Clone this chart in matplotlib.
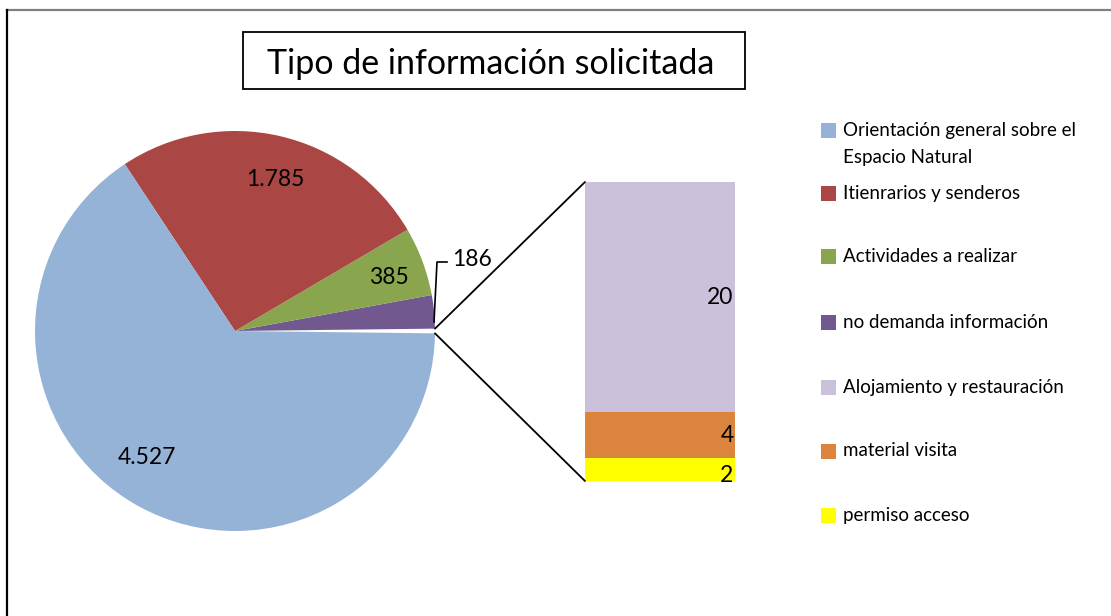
import numpy as np
import matplotlib
matplotlib.use('Agg')
import matplotlib.pyplot as plt
from matplotlib.patches import ConnectionPatch, Rectangle
from matplotlib.lines import Line2D

W, H = 1111, 616

# data
pie_labels = ['Orientación general sobre el\nEspacio Natural', 'Itienrarios y senderos',
              'Actividades a realizar', 'no demanda información']
pie_values = [4527, 1785, 385, 186]
bar_labels = ['Alojamiento y restauración', 'material visita', 'permiso acceso']
bar_values = [20, 4, 2]
pie_colors = ['#95B3D7', '#AA4643', '#89A54E', '#71588F']
bar_colors = ['#CCC1DA', '#DB843D', '#FFFF00']
title = 'Tipo de información solicitada'


def fx(px):
    return px / W


def fy(py):
    return 1 - py / H


def fmt(v):
    return '{:,}'.format(v).replace(',', '.')


plt.rcParams['font.family'] = ['Lato', 'DejaVu Sans']
fig = plt.figure(figsize=(W / 100, H / 100), dpi=100)

# frame lines of the chart area
fig.add_artist(Line2D([fx(7), 1], [fy(10), fy(10)], color='#808080', lw=1.6))
fig.add_artist(Line2D([fx(7), fx(7)], [fy(10), 0], color='black', lw=1.6))

# title in a box
fig.add_artist(Rectangle((fx(243), fy(89)), fx(745) - fx(243), fy(32) - fy(89),
                         facecolor='white', edgecolor='black', lw=1.3))
fig.text(fx(491), fy(64), title, ha='center', va='center', fontsize=24.5)

# pie: "other" slice first, centred on 0 degrees
other = sum(bar_values)
vals = [other] + pie_values[::-1]
cols = ['white'] + pie_colors[::-1]
ax_pie = fig.add_axes([fx(35), fy(531), 400 / W, 400 / H])
half = other / sum(vals) * 360 / 2
ax_pie.pie(vals, colors=cols, startangle=-half, counterclock=True, radius=1,
           wedgeprops=dict(linewidth=0))
ax_pie.set_xlim(-1, 1)
ax_pie.set_ylim(-1, 1)
ax_pie.axis('off')

# data labels of the pie
pos = {4527: (147, 457), 1785: (275, 180), 385: (389, 278)}
for v in pie_values[:3]:
    x, y = pos[v]
    fig.text(fx(x), fy(y), fmt(v), ha='center', va='center', fontsize=16.5)
fig.add_artist(Line2D([fx(434), fx(437), fx(447)], [fy(322), fy(262), fy(262)],
                      color='black', lw=1.2))
fig.text(fx(452), fy(259), fmt(pie_values[3]), ha='left', va='center', fontsize=16.5)

# stacked bar of the "other" slice
ax_bar = fig.add_axes([fx(585), fy(481), 150 / W, 299 / H])
bottom = 0
for v, c in zip(bar_values[::-1], bar_colors[::-1]):
    ax_bar.bar(0, v, bottom=bottom, width=1, color=c, linewidth=0)
    yy = bottom + v / 2
    if v == 2:
        yy = bottom + v * 0.25
    ax_bar.text(0.49, yy, fmt(v), ha='right', va='center', fontsize=16.5)
    bottom += v
ax_bar.set_xlim(-0.5, 0.5)
ax_bar.set_ylim(0, other)
ax_bar.axis('off')

# connector lines
a = np.radians(half)
for sgn, yb in ((1, other), (-1, 0)):
    con = ConnectionPatch(xyA=(np.cos(a), sgn * np.sin(a)), coordsA=ax_pie.transData,
                          xyB=(-0.5, yb), coordsB=ax_bar.transData,
                          color='black', lw=1.3)
    fig.add_artist(con)

# legend
leg_labels = pie_labels + bar_labels
leg_colors = pie_colors + bar_colors
leg_y = [130, 193, 257, 322, 387, 451, 515]
for lab, c, y in zip(leg_labels, leg_colors, leg_y):
    fig.add_artist(Rectangle((fx(821), fy(y + 7.5)), 15 / W, 15 / H,
                             facecolor=c, edgecolor='none'))
    if '\n' in lab:
        fig.text(fx(843), fy(y - 8), lab, ha='left', va='top', fontsize=13.5,
                 linespacing=1.75)
    else:
        fig.text(fx(843), fy(y), lab, ha='left', va='center', fontsize=13.5)

fig.savefig('out.png', dpi=100)
